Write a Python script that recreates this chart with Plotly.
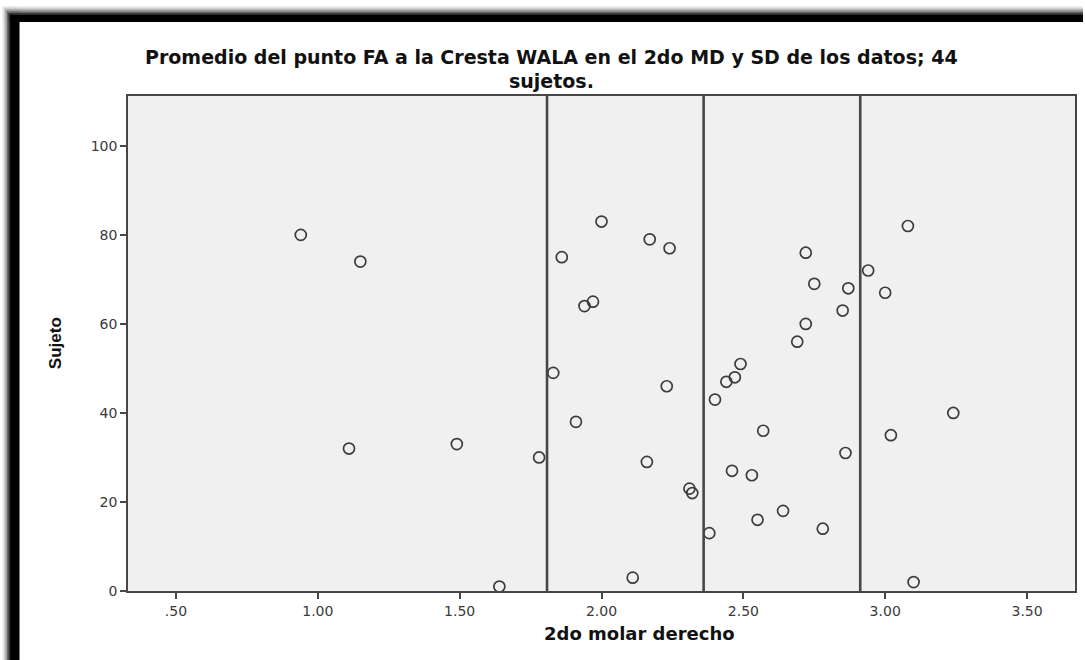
import plotly.graph_objects as go

# Distance from the FA point to the WALA ridge, lower right second molar (mm)
molar_derecho = [
    0.94, 1.15, 2.00, 2.17, 2.24, 1.86, 1.97, 1.94, 1.83, 2.23,
    1.91, 1.11, 1.49, 1.78, 2.16, 2.31, 2.32, 1.64, 2.11, 3.08,
    2.72, 2.94, 2.75, 2.87, 3.00, 2.85, 2.72, 2.69, 2.49, 2.47,
    2.44, 2.40, 2.57, 2.86, 2.46, 2.53, 2.64, 2.55, 2.38, 2.78,
    3.24, 3.02, 3.10,
]
# Subject number for each measurement
sujeto = [
    80, 74, 83, 79, 77, 75, 65, 64, 49, 46,
    38, 32, 33, 30, 29, 23, 22, 1, 3, 82,
    76, 72, 69, 68, 67, 63, 60, 56, 51, 48,
    47, 43, 36, 31, 27, 26, 18, 16, 13, 14,
    40, 35, 2,
]

# Mean and standard deviation shown as reference lines
media = 2.36
desviacion = 0.552
lineas_ref = [media - desviacion, media, media + desviacion]

x_ticks = [0.5, 1.0, 1.5, 2.0, 2.5, 3.0, 3.5]
x_tick_text = [".50", "1.00", "1.50", "2.00", "2.50", "3.00", "3.50"]
y_ticks = [0, 20, 40, 60, 80, 100]

titulo_1 = "Promedio del punto FA a la Cresta WALA en el 2do MD y SD de los datos; 44"
titulo_2 = "sujetos."
titulo_x = "2do molar derecho"
titulo_y = "Sujeto"

W, H = 1085, 660
L, R, T, B = 128, 1077, 96, 591  # plot box in pixels


def px(xp):
    return (xp - L) / (R - L)


def py(yp):
    return (B - yp) / (B - T)


fig = go.Figure()
fig.add_trace(go.Scatter(
    x=molar_derecho, y=sujeto, mode="markers",
    marker=dict(symbol="circle-open", size=11, color="#3c3c3c",
                line=dict(width=1.7, color="#3c3c3c")),
    showlegend=False, hoverinfo="x+y",
))

shapes = []
# vertical lines at mean - SD, mean, mean + SD
for v in lineas_ref:
    shapes.append(dict(type="line", xref="x", yref="paper", x0=v, x1=v, y0=0, y1=1,
                       line=dict(color="#474747", width=2.6), layer="above"))

# shadowed black frame along the top and left edges
steps = [(0.0, "#ededed"), (0.2, "#cfcfcf"), (0.4, "#a0a0a0"), (0.6, "#686868"),
         (0.8, "#2e2e2e"), (1.0, "#000000")]
for t, c in steps:
    shapes.append(dict(type="rect", xref="paper", yref="paper",
                       x0=px(2 + t * 8), x1=px(W), y0=py(6 + t * 9), y1=py(22),
                       fillcolor=c, line=dict(width=0), layer="above"))
    shapes.append(dict(type="rect", xref="paper", yref="paper",
                       x0=px(2 + t * 8), x1=px(19), y0=py(6 + t * 9), y1=py(H),
                       fillcolor=c, line=dict(width=0), layer="above"))

title_font = dict(family="DejaVu Sans", size=19, color="#111111", weight="bold")
annotations = [
    dict(text=titulo_1, x=px(552), y=py(57), xref="paper", yref="paper",
         showarrow=False, xanchor="center", yanchor="middle", font=title_font),
    dict(text=titulo_2, x=px(552), y=py(81), xref="paper", yref="paper",
         showarrow=False, xanchor="center", yanchor="middle", font=title_font),
    dict(text=titulo_x, x=px(641), y=py(633), xref="paper", yref="paper",
         showarrow=False, xanchor="center", yanchor="middle",
         font=dict(family="DejaVu Sans", size=18, color="#111111", weight="bold")),
    dict(text=titulo_y, x=px(55), y=py(343), xref="paper", yref="paper",
         showarrow=False, xanchor="center", yanchor="middle", textangle=-90,
         font=dict(family="Liberation Sans Narrow, Liberation Sans", size=17,
                   color="#111111", weight="bold")),
]

axis_common = dict(showline=True, mirror=True, linecolor="#474747", linewidth=1.6,
                   ticks="outside", ticklen=6, tickwidth=2, tickcolor="#474747",
                   showgrid=False, zeroline=False,
                   tickfont=dict(family="DejaVu Sans", size=14, color="#3a3a3a"))

fig.update_layout(
    width=W, height=H,
    margin=dict(l=L, r=W - R, t=T, b=H - B, pad=0),
    paper_bgcolor="white", plot_bgcolor="#f0f0f0",
    xaxis=dict(range=[0.331, 3.669], tickvals=x_ticks, ticktext=x_tick_text, **axis_common),
    yaxis=dict(range=[0, 111.2], tickvals=y_ticks, **axis_common),
    shapes=shapes, annotations=annotations,
)

fig.write_html("out.html")
